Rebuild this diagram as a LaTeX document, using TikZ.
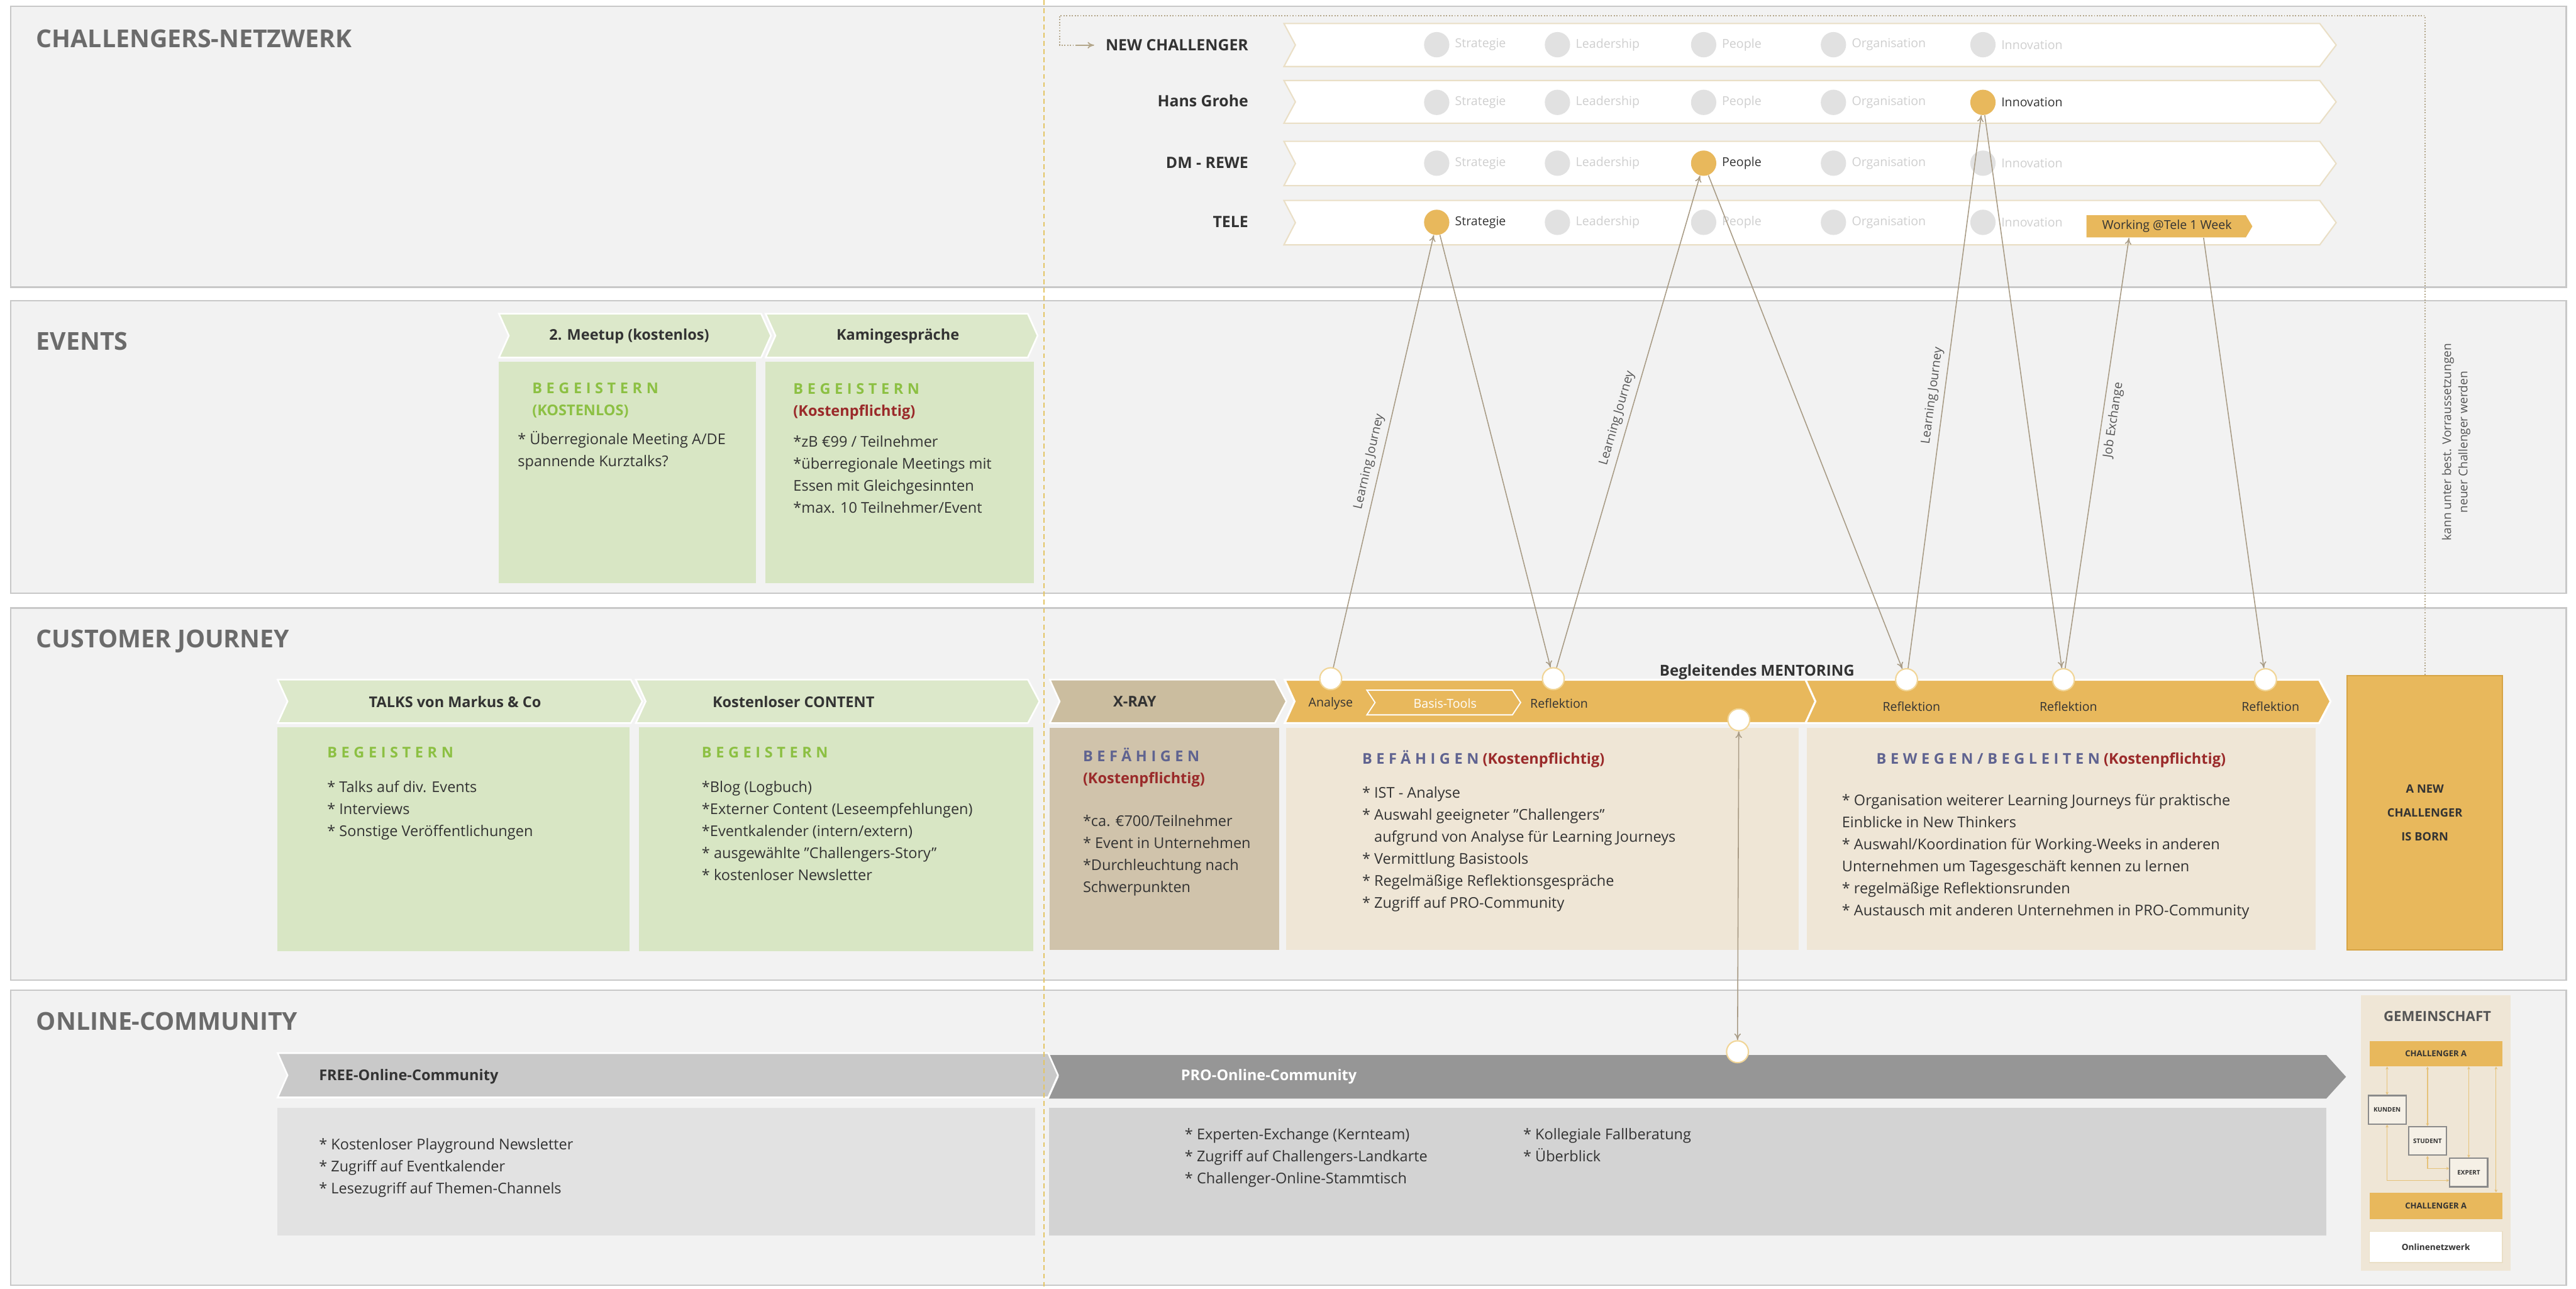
\documentclass[tikz,border=0pt]{standalone}
\usepackage{fontspec}
\usepackage{ifthen}
\setmainfont{Open Sans}
\newfontfamily\spacedfont{Open Sans}[LetterSpace=28]
\usetikzlibrary{arrows.meta,calc}

\definecolor{panel}{HTML}{F2F2F2}
\definecolor{panelline}{HTML}{C8C8C8}
\definecolor{headgray}{HTML}{6B6B6B}
\definecolor{txt}{HTML}{333333}
\definecolor{greenhead}{HTML}{DCE8CA}
\definecolor{greenbody}{HTML}{D8E6C4}
\definecolor{begeistern}{HTML}{8CC043}
\definecolor{kosten}{HTML}{9A2A2A}
\definecolor{befaehigen}{HTML}{5F6390}
\definecolor{tanhead}{HTML}{CBBD9F}
\definecolor{tanbody}{HTML}{D0C3AB}
\definecolor{gold}{HTML}{E8B85C}
\definecolor{goldline}{HTML}{D6A445}
\definecolor{beige}{HTML}{EFE6D6}
\definecolor{rowline}{HTML}{EADFC6}
\definecolor{dotgray}{HTML}{E1E1E1}
\definecolor{dotlabel}{HTML}{CFCFCF}
\definecolor{linkcol}{HTML}{A89B85}
\definecolor{jcol}{HTML}{555555}
\definecolor{dashcol}{HTML}{E3C463}
\definecolor{framecol}{HTML}{B3A68A}
\definecolor{freehead}{HTML}{C9C9C9}
\definecolor{freebody}{HTML}{E2E2E2}
\definecolor{prohead}{HTML}{969696}
\definecolor{probody}{HTML}{D3D3D3}
\definecolor{ringline}{HTML}{F1D596}
\definecolor{minilink}{HTML}{E6C27A}
\definecolor{miniframe}{HTML}{8A8A8A}

\newcommand{\fsz}[2]{\fontsize{#1pt}{#2pt}\selectfont}
\newcommand{\spc}[1]{{\spacedfont\bfseries #1}}
% chevron: style, x1, y1, x2 (tip), y2, notch depth, tip depth
\newcommand{\chev}[7]{\path[#1] (#2,#3) -- ({#4-#7},#3) -- (#4,{(#3+#5)/2}) -- ({#4-#7},#5) -- (#2,#5) -- ({#2+#6},{(#3+#5)/2}) -- cycle;}

\begin{document}
\begin{tikzpicture}[x=1pt,y=-1pt,
  panelbox/.style={fill=panel, draw=panelline, line width=0.9pt},
  heading/.style={anchor=base west, inner sep=0pt, text=headgray, font=\fsz{15}{18}\bfseries},
  % multi-line blocks are anchored at the baseline of their last line
  bodytext/.style={anchor=base west, inner sep=0pt, text=txt, align=left, font=\fsz{9}{13.4}},
  hdrtext/.style={inner sep=0pt, text=txt, font=\fsz{9}{11}\bfseries},
  smalltext/.style={inner sep=0pt, text=txt, font=\fsz{7.5}{9}},
  rowlabel/.style={anchor=east, inner sep=0pt, text=txt, font=\fsz{9.5}{11}\bfseries},
  netdot/.style={circle, inner sep=0pt, minimum size=15.4pt},
  netlab/.style={anchor=west, inner sep=0pt, font=\fsz{7.5}{9}},
  cjring/.style={circle, fill=white, draw=ringline, line width=0.8pt, inner sep=0pt, minimum size=13.3pt},
  linkarrow/.style={draw=linkcol, line width=0.6pt, -{To[length=4pt,width=4pt]}},
  jlabel/.style={inner sep=0pt, text=jcol, font=\fsz{7.5}{9}},
  rowband/.style={fill=white, draw=rowline, line width=0.8pt},
  framelink/.style={draw=framecol, line width=0.7pt, densely dotted},
  minibox/.style={draw=miniframe, fill=beige!60!white, line width=0.8pt, inner sep=0pt, minimum width=23pt, minimum height=17.3pt, text=txt, font=\fsz{3.8}{4.5}\bfseries},
  minibar/.style={fill=gold, inner sep=0pt, minimum width=80.6pt, text=txt, font=\fsz{5}{6}\bfseries},
  minilinkst/.style={draw=minilink, line width=0.5pt, {Stealth[length=1.8pt,width=1.8pt]}-{Stealth[length=1.8pt,width=1.8pt]}}
]
\useasboundingbox (0,0) rectangle (1568,784);
\fill[white] (0,0) rectangle (1568,784);

% ---------- section panels ----------
\path[panelbox] (6.4,3.9) rectangle (1562,174.7);
\path[panelbox] (6.4,183) rectangle (1562,361);
\path[panelbox] (6.4,370) rectangle (1562,596.4);
\path[panelbox] (6.4,602.5) rectangle (1562,782);

\node[heading] (h-net) at (22,29) {CHALLENGERS-NETZWERK};
\node[heading] (h-ev) at (22,213) {EVENTS};
\node[heading] (h-cj) at (22,394) {CUSTOMER JOURNEY};
\node[heading] (h-oc) at (22,627) {ONLINE-COMMUNITY};

% ---------- challengers network rows ----------
\foreach \yt/\yb in {14.3/40.5,49/75,86/113,122/149}{\chev{rowband}{781.5}{\yt}{1422}{\yb}{7}{10}}

\node[rowlabel] (lbl-new) at (760,27.5) {NEW CHALLENGER};
\node[rowlabel] (lbl-hg) at (760,61.5) {Hans Grohe};
\node[rowlabel] (lbl-dm) at (760,99) {DM - REWE};
\node[rowlabel] (lbl-tele) at (760,135) {TELE};

\foreach \yc/\rn/\act in {27.2/new/none,62.3/hg/inno,99.3/dm/peop,135.3/tele/strat}{
  \foreach \xc/\cn/\lab in {874.5/strat/Strategie,948/lead/Leadership,1037/peop/People,1116/org/Organisation,1207/inno/Innovation}{
    \ifthenelse{\equal{\cn}{\act}}{\def\dfill{gold}\def\lcol{txt}}{\def\dfill{dotgray}\def\lcol{dotlabel}}
    \node[netdot, fill=\dfill] (\rn-\cn) at (\xc,\yc) {};
    \node[netlab, text=\lcol] (\rn-\cn-t) at (\xc+11,\yc) {\lab};
  }
}

% working week box in the TELE row
\chev{fill=gold}{1270}{131}{1371}{144.5}{0}{4}
\node[inner sep=0pt, minimum width=101pt, minimum height=13.5pt, font=\fsz{7.5}{9}, text=txt] (work) at (1319,137.75) {Working @Tele 1 Week};
\coordinate (work-in) at ($(work.south west)+(27.6,0)$);
\coordinate (work-out) at ($(work.south west)+(73,0)$);

% ---------- events ----------
\chev{fill=greenhead, draw=white, line width=1pt}{303.7}{190.9}{469.3}{217.6}{6}{6}
\chev{fill=greenhead, draw=white, line width=1pt}{466}{190.9}{631.6}{217.6}{6}{6}
\fill[greenbody] (303.7,220) rectangle (460,355);
\fill[greenbody] (466,220) rectangle (629.3,355);
\node[hdrtext] (ev-h1) at (383,204.5) {2. Meetup (kostenlos)};
\node[hdrtext] (ev-h2) at (546.5,204.5) {Kamingespräche};
\node[bodytext, text=begeistern] (ev-b1) at (323.8,252.9) {\spc{BEGEISTERN}\\\textbf{(KOSTENLOS)}};
\node[bodytext] (ev-t1) at (315,283.9) {* Überregionale Meeting A/DE\\spannende Kurztalks?};
\node[bodytext, text=begeistern] (ev-b2) at (482.7,253.4) {\spc{BEGEISTERN}\\{\color{kosten}\bfseries (Kostenpflichtig)}};
\node[bodytext] (ev-t2) at (482.7,312.2) {*zB €99 / Teilnehmer\\*überregionale Meetings mit\\Essen mit Gleichgesinnten\\*max. 10 Teilnehmer/Event};

% ---------- customer journey ----------
\chev{fill=greenhead, draw=white, line width=1pt}{169}{413.6}{391}{440}{6}{7}
\chev{fill=greenhead, draw=white, line width=1pt}{387}{413.6}{632.7}{440}{6}{7}
\chev{fill=tanhead, draw=white, line width=1pt}{639}{413.6}{783}{440}{6}{7}
\chev{fill=gold, draw=white, line width=1.2pt}{782}{413.6}{1106}{440}{6}{7}
\chev{fill=gold, draw=white, line width=1.2pt}{1099}{413.6}{1418.6}{440}{6}{7}
\chev{draw=white, line width=0.7pt}{832}{420}{925.6}{435}{5}{5}

\fill[greenbody] (169,442.6) rectangle (383,578.7);
\fill[greenbody] (389,442.6) rectangle (629,578.7);
\fill[tanbody] (639,443) rectangle (778.6,578);
\fill[beige] (783,443) rectangle (1095,578);
\fill[beige] (1099.7,443) rectangle (1409.5,578);

\node[hdrtext] (cj-h1) at (277,427) {TALKS von Markus \& Co};
\node[hdrtext] (cj-h2) at (483,427) {Kostenloser CONTENT};
\node[hdrtext] (cj-h3) at (690.7,427) {X-RAY};
\node[smalltext, text=white] (cj-basis) at (879.6,428) {Basis-Tools};
\node[smalltext] (cj-l1) at (810,428) {Analyse};
\node[smalltext] (cj-l2) at (949,428) {Reflektion};
\node[smalltext] (cj-l3) at (1163.5,430) {Reflektion};
\node[smalltext] (cj-l4) at (1259,430) {Reflektion};
\node[smalltext] (cj-l5) at (1382,430) {Reflektion};
\node[hdrtext, font=\fsz{9.2}{11}\bfseries] (mentor) at (1069.5,409) {Begleitendes MENTORING};

\node[bodytext, text=begeistern] (cj-b1) at (199,461) {\spc{BEGEISTERN}};
\node[bodytext] (cj-t1) at (199,508.8) {* Talks auf div. Events\\* Interviews\\* Sonstige Veröffentlichungen};
\node[bodytext, text=begeistern] (cj-b2) at (427,461) {\spc{BEGEISTERN}};
\node[bodytext] (cj-t2) at (427,535.6) {*Blog (Logbuch)\\*Externer Content (Leseempfehlungen)\\*Eventkalender (intern/extern)\\* ausgewählte "Challengers-Story"\\* kostenloser Newsletter};
\node[bodytext, text=befaehigen] (cj-b3) at (659,476.9) {\spc{BEFÄHIGEN}\\{\color{kosten}\bfseries (Kostenpflichtig)}};
\node[bodytext] (cj-t3) at (659,543.2) {*ca. €700/Teilnehmer\\* Event in Unternehmen\\*Durchleuchtung nach\\Schwerpunkten};
\node[bodytext, text=befaehigen] (cj-b4) at (829,465) {\spc{BEFÄHIGEN} {\color{kosten}\bfseries(Kostenpflichtig)}};
\node[bodytext] (cj-t4) at (829,552.5) {* IST - Analyse\\* Auswahl geeigneter "Challengers"\\\phantom{* }aufgrund von Analyse für Learning Journeys\\* Vermittlung Basistools\\* Regelmäßige Reflektionsgespräche\\* Zugriff auf PRO-Community};
\node[bodytext, text=befaehigen] (cj-b5) at (1142,465) {\spc{BEWEGEN/BEGLEITEN} {\color{kosten}\bfseries(Kostenpflichtig)}};
\node[bodytext] (cj-t5) at (1121,557) {* Organisation weiterer Learning Journeys für praktische\\Einblicke in New Thinkers\\* Auswahl/Koordination für Working-Weeks in anderen\\Unternehmen um Tagesgeschäft kennen zu lernen\\* regelmäßige Reflektionsrunden\\* Austausch mit anderen Unternehmen in PRO-Community};

\node[fill=gold, draw=goldline, line width=0.8pt, inner sep=0pt, minimum width=94.7pt, minimum height=167pt, align=center, text=txt, font=\fsz{7}{14.5}\bfseries] (born) at (1476,494.5) {A NEW\\CHALLENGER\\IS BORN};

% ---------- online community ----------
\chev{fill=prohead}{638.5}{642}{1428}{668.5}{6}{12}
\chev{fill=freehead, draw=white, line width=1pt}{169}{640.8}{644}{667.8}{6}{6}
\fill[freebody] (169,674) rectangle (630,752);
\fill[probody] (638.5,674) rectangle (1416,752);
\node[hdrtext, anchor=west] (oc-h1) at (194,655) {FREE-Online-Community};
\node[hdrtext, anchor=west, text=white] (oc-h2) at (718.7,655) {PRO-Online-Community};
\node[bodytext] (oc-t1) at (194,726.3) {* Kostenloser Playground Newsletter\\* Zugriff auf Eventkalender\\* Lesezugriff auf Themen-Channels};
\node[bodytext] (oc-t2) at (721,720.3) {* Experten-Exchange (Kernteam)\\* Zugriff auf Challengers-Landkarte\\* Challenger-Online-Stammtisch};
\node[bodytext] (oc-t3) at (927,706.9) {* Kollegiale Fallberatung\\* Überblick};

% community mini diagram
\node[fill=beige, inner sep=0pt, minimum width=91.3pt, minimum height=167.7pt] (gbox) at (1482.65,689.45) {};
\node[inner sep=0pt, text=jcol, font=\fsz{8.5}{10}\bfseries] (gtitle) at (1483.6,618.6) {GEMEINSCHAFT};
\node[minibar, minimum height=15.4pt] (gA1) at (1482.7,641.1) {CHALLENGER A};
\node[minibox] (kunden) at (1453,675.3) {KUNDEN};
\node[minibox] (student) at (1477.6,694.3) {STUDENT};
\node[minibox] (expert) at (1502.7,713.5) {EXPERT};
\node[minibar, minimum height=16.2pt] (gA2) at (1482.7,733.9) {CHALLENGER A};
\node[fill=white, draw=rowline, line width=0.6pt, inner sep=0pt, minimum width=81pt, minimum height=19pt, text=txt, font=\fsz{5.2}{6}\bfseries] (gnet) at (1482.7,758.8) {Onlinenetzwerk};
\draw[minilinkst] (gA1.south -| kunden.north) -- (kunden.north);
\draw[minilinkst] (gA1.south -| student.north) -- (student.north);
\draw[minilinkst] (gA1.south -| expert.north) -- (expert.north);
\draw[minilinkst] ($(gA1.south)+(36.6,0)$) -- ($(gA2.north)+(36.6,0)$);
\draw[minilinkst] (kunden.south) |- ($(expert.west)+(0,4.8)$);
\draw[minilinkst] (student.south) |- ($(expert.west)+(0,-2.5)$);

% ---------- free / paid divider ----------
\draw[dashcol, line width=0.8pt, dash pattern=on 3pt off 2pt] (635.5,0) -- (635.5,784);

% ---------- journey rings and links ----------
\node[cjring] (a1) at (810,413) {};
\node[cjring] (r1) at (945.5,413) {};
\node[cjring] (m1) at (1058.4,438) {};
\node[cjring] (r2) at (1160.5,413.6) {};
\node[cjring] (r3) at (1256,413.6) {};
\node[cjring] (r4) at (1379,413.6) {};
\node[cjring] (m2) at (1057.6,640) {};

\draw[linkarrow] (a1) -- node[jlabel, pos=0.47, sloped, above=3pt] (lj1) {Learning Journey} (tele-strat);
\draw[linkarrow] (tele-strat) -- (r1);
\draw[linkarrow] (r1) -- node[jlabel, pos=0.5, sloped, above=3pt] (lj2) {Learning Journey} (dm-peop);
\draw[linkarrow] (dm-peop) -- (r2);
\draw[linkarrow] (r2) -- node[jlabel, pos=0.49, sloped, above=3pt] (lj3) {Learning Journey} (hg-inno);
\draw[linkarrow] (hg-inno) -- (r3);
\draw[linkarrow] (r3) -- node[jlabel, pos=0.58, sloped, below=3pt] (jx) {Job Exchange} (work-in);
\draw[linkarrow] (work-out) -- (r4);
\draw[linkarrow, {To[length=4pt,width=4pt]}-{To[length=4pt,width=4pt]}] (m1) -- (m2);

% ---------- path back into the network ----------
\coordinate (nc-in) at (666,27.5);
\draw[framelink] (born.north) |- (645,9.5) -- (645,27.5) -- (nc-in);
\draw[draw=framecol, line width=0.7pt, -{To[length=4pt,width=4pt]}] (655,27.5) -- (nc-in);
\node[inner sep=0pt, rotate=90, align=center, text=jcol, font=\fsz{7.3}{10}] (kann) at (1495,269) {kann unter best. Vorraussetzungen\\neuer Challenger werden};
\end{tikzpicture}
\end{document}
